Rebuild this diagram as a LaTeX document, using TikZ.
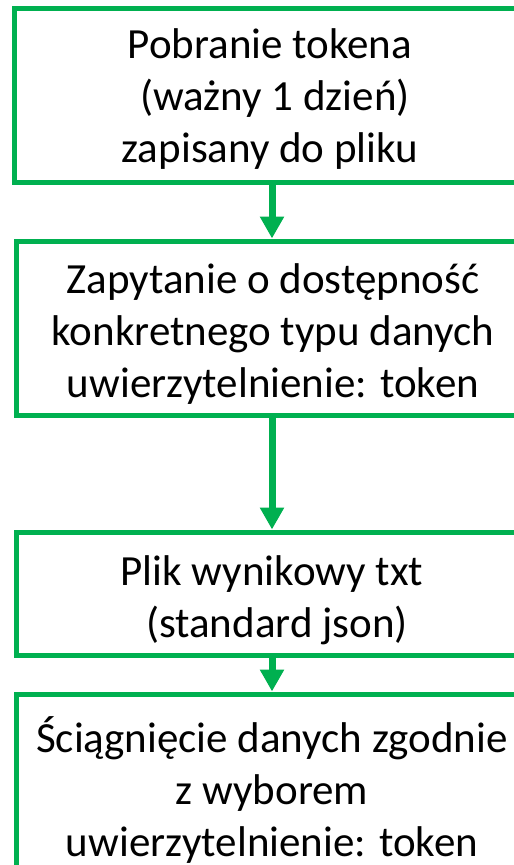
\documentclass[tikz,border=0pt]{standalone}
\usepackage{fontspec}
\setmainfont{Carlito}
\usetikzlibrary{arrows.meta}
\definecolor{flowgreen}{HTML}{00B050}
\tikzset{
  box/.style={draw=flowgreen, line width=5pt, rectangle, anchor=north west, minimum width=530pt, inner sep=0pt},
  label/.style={align=center, font=\fontsize{43}{52}\selectfont, inner sep=0pt, text=black},
  arr/.style={draw=flowgreen, line width=7pt, -{Triangle[width=23pt,length=22pt]}}
}
\begin{document}
\begin{tikzpicture}[x=1pt,y=-1pt]
  \useasboundingbox (0,0) rectangle (514,865);
  \clip (0,0) rectangle (514,865);
  % boxes
  \node[box, minimum height=174pt] (b1) at (12,5.5) {};
  \node[box, minimum height=174pt] (b2) at (14,238.5) {};
  \node[box, minimum height=123pt] (b3) at (13.5,529.5) {};
  \node[box, minimum height=200pt] (b4) at (13.5,691.5) {};
  % texts
  \node[label] (t1) at (270,99) {Pobranie tokena\\\hspace*{0.23em}(ważny 1 dzień)\\zapisany do pliku};
  \node[label] (t2) at (273,334) {Zapytanie o dostępność\\konkretnego typu danych\\uwierzytelnienie: token};
  \node[label] (t3) at (272,600) {Plik wynikowy txt\\\hspace*{0.23em}(standard json)};
  \node[label] (t4) at (272,790) {Ściągnięcie danych zgodnie\\z wyborem\\uwierzytelnienie: token};
  % connectors
  \coordinate (ax) at (272,0);
  \draw[arr] (b1.south -| ax) -- (b2.north -| ax);
  \draw[arr] (b2.south -| ax) -- (b3.north -| ax);
  \draw[arr] (b3.south -| ax) -- (b4.north -| ax);
\end{tikzpicture}
\end{document}
